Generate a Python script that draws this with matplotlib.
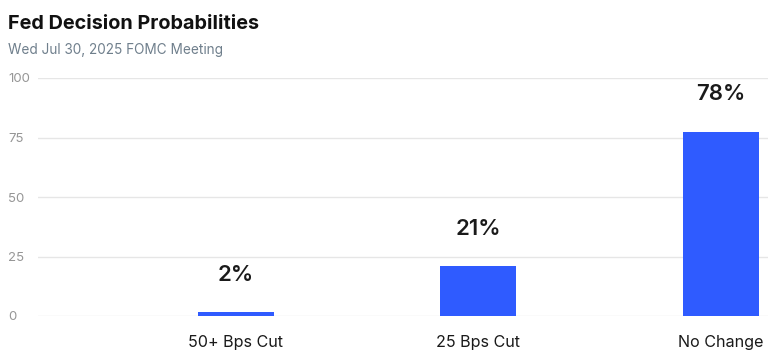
import numpy as np
import matplotlib.pyplot as plt

categories = ["50+ Bps Cut", "25 Bps Cut", "No Change"]
probs = [1.6, 20.9, 77.4]
prob_labels = ["2%", "21%", "78%"]
yticks = [0, 25, 50, 75, 100]

plt.rcParams['font.family'] = ['Inter', 'DejaVu Sans']

fig = plt.figure(figsize=(7.68, 3.64), dpi=100)
ax = fig.add_axes([38 / 768, 48 / 364, 730 / 768, 238 / 364])

x = np.arange(len(categories))
ax.bar(x, probs, width=0.313, color="#2f5bff", zorder=3)

# value labels sit a fixed distance above each bar
for xi, v, lab in zip(x, probs, prob_labels):
    ax.annotate(lab, (xi, v), xytext=(0, 27), textcoords="offset points",
                ha="center", va="center", fontsize=16, fontweight="semibold", color="#1a1a1a")

ax.set_xlim(-0.816, 2.194)
ax.set_ylim(0, 100)
ax.set_yticks(yticks)
ax.set_xticks(x)
ax.set_xticklabels(categories, fontsize=11.6, color="#1a1a1a")
ax.tick_params(axis="x", length=0, pad=14)
ax.tick_params(axis="y", length=0, pad=21.5, labelsize=9.5, labelcolor="#969696")
for t in ax.get_yticklabels():
    t.set_ha("left")
ax.grid(axis="y", color="#e6e6e6", linewidth=1, zorder=0)
for s in ax.spines.values():
    s.set_visible(False)

fig.text(8 / 768, 1 - 24 / 364, "Fed Decision Probabilities", fontsize=14.3, fontweight="bold",
         color="#111111", va="center", ha="left")
fig.text(8 / 768, 1 - 50 / 364, "Wed Jul 30, 2025 FOMC Meeting", fontsize=9.8,
         color="#6f7f8c", va="center", ha="left")

fig.savefig("out.png", dpi=100)
